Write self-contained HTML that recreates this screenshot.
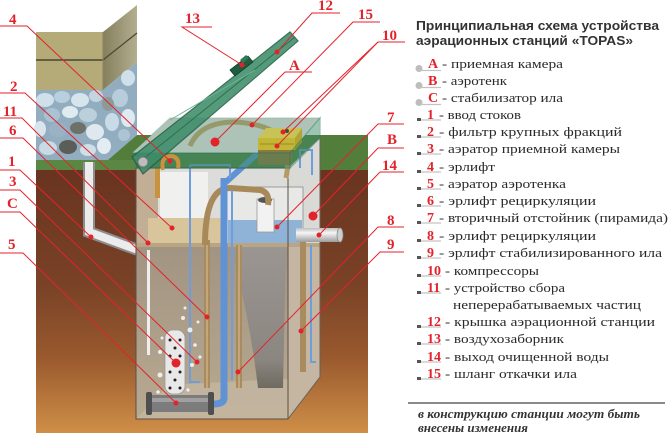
<!DOCTYPE html>
<html><head><meta charset="utf-8">
<style>
html,body{margin:0;padding:0;background:#fff;}
svg{display:block;}
.lb{font-family:"Liberation Serif",serif;font-weight:bold;font-size:15px;fill:#e3232b;}
.num{font-family:"Liberation Serif",serif;font-weight:bold;font-size:14px;fill:#e3232b;}
.dsc{font-family:"Liberation Serif",serif;font-size:13px;fill:#2a2a2a;}
.ttl{font-family:"Liberation Sans",sans-serif;font-weight:bold;font-size:13px;fill:#333;}
.note{font-family:"Liberation Serif",serif;font-weight:bold;font-style:italic;font-size:12.5px;fill:#333;}
</style></head><body>
<svg width="670" height="435" viewBox="0 0 670 435" xmlns="http://www.w3.org/2000/svg">
<defs>
<linearGradient id="soil" x1="0" y1="170" x2="0" y2="433" gradientUnits="userSpaceOnUse">
 <stop offset="0" stop-color="#693420"/>
 <stop offset="0.45" stop-color="#7a4327"/>
 <stop offset="0.72" stop-color="#9a5a2e"/>
 <stop offset="1" stop-color="#cf8f48"/>
</linearGradient>
<linearGradient id="side" x1="103" y1="0" x2="137" y2="0" gradientUnits="userSpaceOnUse">
 <stop offset="0" stop-color="#857f5c"/>
 <stop offset="1" stop-color="#b3ae90"/>
</linearGradient>
<linearGradient id="pipeH" x1="0" y1="0" x2="0" y2="1">
 <stop offset="0" stop-color="#bdbdbd"/>
 <stop offset="0.35" stop-color="#f6f6f6"/>
 <stop offset="1" stop-color="#9c9c9c"/>
</linearGradient>
<linearGradient id="lower" x1="0" y1="246" x2="0" y2="419" gradientUnits="userSpaceOnUse">
 <stop offset="0" stop-color="#a29482"/>
 <stop offset="1" stop-color="#b8a991"/>
</linearGradient>
<linearGradient id="cone" x1="0" y1="246" x2="0" y2="388" gradientUnits="userSpaceOnUse">
 <stop offset="0" stop-color="#9a9694"/>
 <stop offset="0.8" stop-color="#87837f"/>
 <stop offset="1" stop-color="#66625a"/>
</linearGradient>
</defs>

<!-- stone wall -->
<rect x="36" y="32" width="67" height="58" fill="#b5ab78"/>
<polygon points="103,32 137,5 137,62 103,90" fill="url(#side)"/>
<line x1="36" y1="60" x2="103" y2="60" stroke="#4a4630" stroke-width="1.5"/>
<line x1="103" y1="60" x2="137" y2="33" stroke="#4a4630" stroke-width="1.2"/>
<line x1="103" y1="32" x2="103" y2="90" stroke="#8a845e" stroke-width="1"/>

<!-- pebbles -->
<polygon points="36,90 103,90 137,62 137,135 110,160 36,160" fill="#93adc0"/>
<g>
<ellipse cx="45" cy="100" rx="9" ry="7" fill="#cfe0ea"/>
<ellipse cx="62" cy="97" rx="8" ry="6" fill="#b8cfdd"/>
<ellipse cx="80" cy="100" rx="9" ry="7" fill="#d6e4ec"/>
<ellipse cx="96" cy="96" rx="7" ry="6" fill="#c2d5e0"/>
<ellipse cx="52" cy="115" rx="8" ry="7" fill="#a9c3d3"/>
<ellipse cx="70" cy="112" rx="8" ry="6" fill="#e0ebf0"/>
<ellipse cx="88" cy="115" rx="9" ry="7" fill="#bcd0dc"/>
<ellipse cx="40" cy="129" rx="6" ry="8" fill="#d8e5ec"/>
<ellipse cx="58" cy="130" rx="9" ry="7" fill="#9ab3c4"/>
<ellipse cx="78" cy="128" rx="8" ry="6" fill="#6f7068"/>
<ellipse cx="95" cy="132" rx="9" ry="8" fill="#dfe8ee"/>
<ellipse cx="48" cy="148" rx="9" ry="7" fill="#c8dae4"/>
<ellipse cx="68" cy="147" rx="9" ry="7" fill="#5b5d58"/>
<ellipse cx="88" cy="150" rx="8" ry="6" fill="#cfdee7"/>
<ellipse cx="104" cy="146" rx="7" ry="8" fill="#e3ecf1"/>
<ellipse cx="112" cy="122" rx="7" ry="9" fill="#c9dbe6"/>
<ellipse cx="120" cy="98" rx="8" ry="9" fill="#b7cddb"/>
<ellipse cx="128" cy="78" rx="7" ry="8" fill="#cfe0ea"/>
<ellipse cx="128" cy="118" rx="7" ry="9" fill="#dfe9ef"/>
<ellipse cx="124" cy="135" rx="6" ry="6" fill="#adc4d2"/>
<ellipse cx="108" cy="104" rx="6" ry="7" fill="#8e9a98"/>
</g>

<!-- grass -->
<polygon points="36,160 108,160 137,135 368,135 368,170 36,170" fill="#527d3b"/>
<rect x="36" y="160" width="100" height="10" fill="#5b8744"/>

<!-- soil -->
<rect x="36" y="170" width="332" height="263" fill="url(#soil)"/>

<!-- inlet pipe -->
<polyline points="89,162 89,232 138,250" fill="none" stroke="#8e8e8e" stroke-width="12"/>
<polyline points="89,162 89,232 138,250" fill="none" stroke="#ececec" stroke-width="8"/>

<!-- tank right face -->
<polygon points="288,168 320,138 320,377 288,419" fill="#c4b6a2"/>
<polygon points="288,168 320,138 320,244 288,246" fill="#d9d9d6"/>
<!-- tank front face -->
<rect x="136" y="168" width="152" height="78" fill="#dcdcda"/>
<rect x="136" y="168" width="22" height="78" fill="#c2ae94"/>
<rect x="136" y="246" width="152" height="173" fill="url(#lower)"/>
<polygon points="136,419 288,419 320,377 168,385" fill="#c6b7a1" opacity="0.8"/>
<!-- left chamber -->
<rect x="160" y="172" width="48" height="50" fill="#f0f0ee"/>
<rect x="148" y="218" width="80" height="27" fill="#d8c59b"/>
<!-- pyramid top -->
<rect x="227" y="187" width="76" height="57" fill="#e8e8e6" stroke="#8a8a8a" stroke-width="0.8"/>
<rect x="228" y="220" width="74" height="24" fill="#8fb3d6"/>
<rect x="257" y="199" width="17" height="33" fill="#f2f2f2" stroke="#9a9a9a" stroke-width="0.8"/>
<ellipse cx="265" cy="200" rx="7" ry="3" fill="#555"/>
<!-- cone -->
<path d="M231,246 L286,246 L283,388 L258,388 Q250,320 231,246 Z" fill="url(#cone)" opacity="0.9"/>
<rect x="136" y="243" width="184" height="4" fill="#b9a582"/>
<!-- white pole left -->
<rect x="147" y="250" width="3" height="105" fill="#eeeeee"/>

<!-- pipes -->
<rect x="204" y="240" width="6" height="148" fill="#a88b5e"/>
<rect x="206" y="240" width="2" height="148" fill="#c2a77a"/>
<rect x="236" y="245" width="6" height="143" fill="#a88b5e"/>
<rect x="238" y="245" width="2" height="143" fill="#c2a77a"/>
<rect x="300" y="240" width="6" height="132" fill="#a88b5e"/>
<rect x="155" y="168" width="5" height="30" fill="#c8923e"/>
<path d="M205,245 Q205,188 230,188 L260,190 Q270,192 268,205" fill="none" stroke="#a8895a" stroke-width="6"/>
<path d="M224,178 L224,398 Q224,404 213,404" fill="none" stroke="#5f93d6" stroke-width="7"/>
<line x1="226" y1="182" x2="258" y2="153" stroke="#5f93d6" stroke-width="6"/>
<polyline points="190,165 190,382 200,382" fill="none" stroke="#6d9ddc" stroke-width="2"/>
<polyline points="232,190 232,380" fill="none" stroke="#6d9ddc" stroke-width="2"/>
<polyline points="311,245 311,362 316,362" fill="none" stroke="#6d9ddc" stroke-width="2"/>
<polyline points="190,165 230,165 230,178" fill="none" stroke="#6d9ddc" stroke-width="2"/>
<polyline points="300,168 300,150 312,150 312,175" fill="none" stroke="#6d9ddc" stroke-width="2"/>

<!-- aerator perforated -->
<rect x="165" y="330" width="20" height="64" rx="8" fill="#e8e8e8" stroke="#9a9a9a" stroke-width="0.8"/>
<g fill="#222">
<circle cx="170" cy="340" r="1.5"/><circle cx="180" cy="340" r="1.5"/>
<circle cx="175" cy="348" r="1.5"/><circle cx="170" cy="356" r="1.5"/><circle cx="180" cy="356" r="1.5"/>
<circle cx="170" cy="372" r="1.5"/><circle cx="180" cy="372" r="1.5"/>
<circle cx="175" cy="380" r="1.5"/><circle cx="170" cy="388" r="1.5"/><circle cx="180" cy="388" r="1.5"/>
</g>
<g fill="#f4f7fa" opacity="0.9">
<circle cx="183" cy="318" r="2"/><circle cx="190" cy="330" r="2.5"/><circle cx="160" cy="352" r="2"/>
<circle cx="195" cy="345" r="1.8"/><circle cx="160" cy="375" r="2.5"/><circle cx="192" cy="365" r="2"/>
<circle cx="188" cy="390" r="1.6"/><circle cx="158" cy="392" r="1.8"/><circle cx="198" cy="322" r="1.5"/>
<circle cx="185" cy="308" r="1.5"/><circle cx="200" cy="357" r="1.6"/><circle cx="162" cy="338" r="1.5"/>
</g>
<!-- bottom aerator -->
<rect x="149" y="395" width="62" height="17" rx="3" fill="#7c7c7c"/>
<rect x="150" y="398" width="60" height="4" fill="#a0a0a0"/>
<rect x="146" y="392" width="6" height="23" rx="2" fill="#4f4f4f"/>
<rect x="208" y="392" width="6" height="23" rx="2" fill="#4f4f4f"/>

<!-- tank edges -->
<rect x="136" y="168" width="152" height="251" fill="none" stroke="#5a5048" stroke-width="1"/>
<polyline points="288,419 320,377 320,138" fill="none" stroke="#6a6058" stroke-width="1"/>

<!-- outlet pipe -->
<rect x="296" y="228" width="44" height="14" fill="url(#pipeH)"/>
<ellipse cx="340" cy="235" rx="3" ry="7" fill="#cfcfcf" stroke="#8a8a8a" stroke-width="0.8"/>

<!-- lid box interior -->
<polygon points="132,153 170,118 320,118 290,153" fill="#d2d4d0"/>
<path d="M190,146 Q200,122 235,122 Q270,124 284,140 Q290,160 286,178" fill="none" stroke="#b39a66" stroke-width="5"/>
<!-- compressors -->
<polygon points="258,138 266,128 302,128 295,138" fill="#f7d44a"/>
<rect x="258" y="138" width="37" height="12" fill="#f1c21b"/>
<polygon points="295,138 302,128 302,142 295,150" fill="#d9a818"/>
<rect x="258" y="150" width="34" height="15" fill="#a36d2c"/>
<line x1="260" y1="144" x2="294" y2="144" stroke="#b08a10" stroke-width="1"/>
<circle cx="287" cy="131" r="2" fill="#333"/>
<!-- box faces -->
<polygon points="132,153 170,118 320,118 290,153" fill="#4f9a78" opacity="0.28" stroke="#2c7c5c" stroke-width="1.2"/>
<polygon points="132,153 290,153 290,168 137,168" fill="#3f8a68" opacity="0.55" stroke="#2c7c5c" stroke-width="1.2"/>
<polygon points="290,153 320,118 320,138 290,168" fill="#3f8a68" opacity="0.5" stroke="#2c7c5c" stroke-width="1.2"/>

<!-- open lid -->
<polygon points="132,157 290,32 298,41 143,174" fill="#3e8d69" opacity="0.88" stroke="#235f45" stroke-width="1.2"/>
<line x1="137" y1="164" x2="295" y2="37" stroke="#2a7052" stroke-width="1"/>
<line x1="170" y1="120" x2="255" y2="70" stroke="#6fb393" stroke-width="1"/>
<polygon points="230,70 248,56 253,62 235,76" fill="#1f5c40" stroke="#144030" stroke-width="0.8"/>
<polygon points="240,60 246,55 249,58 243,63" fill="#2f7a55"/>
<!-- hinge -->
<circle cx="143" cy="162" r="5" fill="#bdbdbd" stroke="#777" stroke-width="1"/>
<path d="M163,170 Q160,156 172,156 Q180,158 178,168" fill="none" stroke="#c8923e" stroke-width="4"/>

<!-- leaders -->
<g stroke="#e3232b" stroke-width="1" fill="none">
<polyline points="0,26 27,26 170,161"/>
<polyline points="0,93 25,93 172,228"/>
<polyline points="0,118 22,118 148,243"/>
<polyline points="0,138 23,138 207,317"/>
<polyline points="0,170 20,170 91,237"/>
<polyline points="0,190 20,190 197,362"/>
<polyline points="0,212 20,212 176,363"/>
<polyline points="0,253 23,253 176,403"/>
<polyline points="212,27 182,27 242,65"/>
<polyline points="340,13 312,13 277,52"/>
<polyline points="380,22 353,22 252,125"/>
<polyline points="405,42 378,42 283,132"/>
<polyline points="378,42 277,146"/>
<polyline points="312,72 285,72 215,142"/>
<polyline points="404,124 378,124 277,227"/>
<polyline points="404,148 378,148 313,216"/>
<polyline points="404,172 380,172 319,235"/>
<polyline points="404,227 378,227 238,372"/>
<polyline points="404,252 380,252 301,331"/>
</g>
<g fill="#e3232b">
<circle cx="170" cy="161" r="2.5"/><circle cx="172" cy="228" r="2.5"/><circle cx="148" cy="243" r="2.5"/>
<circle cx="207" cy="317" r="2.5"/><circle cx="91" cy="237" r="2.5"/><circle cx="197" cy="362" r="2.5"/>
<circle cx="176" cy="363" r="4.5"/><circle cx="176" cy="403" r="2.5"/><circle cx="242" cy="65" r="2.5"/>
<circle cx="277" cy="52" r="2.5"/><circle cx="252" cy="125" r="2.5"/><circle cx="283" cy="132" r="2.5"/>
<circle cx="277" cy="146" r="2.5"/><circle cx="215" cy="142" r="4.5"/><circle cx="277" cy="227" r="2.5"/>
<circle cx="313" cy="216" r="4.5"/><circle cx="319" cy="235" r="2.5"/><circle cx="238" cy="372" r="2.5"/>
<circle cx="301" cy="331" r="2.5"/>
</g>

<!-- diagram labels -->
<text class="lb" x="9" y="24">4</text>
<text class="lb" x="10" y="91">2</text>
<text class="lb" x="3" y="116">11</text>
<text class="lb" x="9" y="135">6</text>
<text class="lb" x="8" y="166">1</text>
<text class="lb" x="9" y="186">3</text>
<text class="lb" x="7" y="208">C</text>
<text class="lb" x="8" y="249">5</text>
<text class="lb" x="185" y="23">13</text>
<text class="lb" x="318" y="10">12</text>
<text class="lb" x="358" y="19">15</text>
<text class="lb" x="382" y="40">10</text>
<text class="lb" x="289" y="70">A</text>
<text class="lb" x="387" y="122">7</text>
<text class="lb" x="387" y="144">B</text>
<text class="lb" x="382" y="170">14</text>
<text class="lb" x="387" y="225">8</text>
<text class="lb" x="387" y="249">9</text>

<!-- legend -->
<text class="ttl" x="416" y="30" textLength="243" lengthAdjust="spacingAndGlyphs">Принципиальная схема устройства</text>
<text class="ttl" x="416" y="45" textLength="217" lengthAdjust="spacingAndGlyphs">аэрационных станций «TOPAS»</text>

<g fill="#bdbdbd">
<circle cx="419" cy="68.5" r="3.5"/><circle cx="419" cy="85.5" r="3.5"/><circle cx="419" cy="102.5" r="3.5"/>
</g>
<g stroke="#c2c2c2" stroke-width="1.3">
<line x1="419" y1="70.5" x2="441" y2="70.5"/><line x1="419" y1="87.5" x2="441" y2="87.5"/><line x1="419" y1="104.5" x2="441" y2="104.5"/>
</g>
<g fill="#555">
<rect x="417" y="118" width="4" height="3"/><rect x="417" y="135" width="4" height="3"/><rect x="417" y="152" width="4" height="3"/>
<rect x="417" y="170" width="4" height="3"/><rect x="417" y="187" width="4" height="3"/><rect x="417" y="204" width="4" height="3"/>
<rect x="417" y="221" width="4" height="3"/><rect x="417" y="239" width="4" height="3"/><rect x="417" y="256" width="4" height="3"/>
<rect x="417" y="274" width="4" height="3"/><rect x="417" y="291" width="4" height="3"/><rect x="417" y="325" width="4" height="3"/>
<rect x="417" y="342" width="4" height="3"/><rect x="417" y="360" width="4" height="3"/><rect x="417" y="377" width="4" height="3"/>
</g>
<g stroke="#b5b5b5" stroke-width="1">
<line x1="421" y1="120" x2="441" y2="120"/><line x1="421" y1="137" x2="441" y2="137"/><line x1="421" y1="154" x2="441" y2="154"/>
<line x1="421" y1="172" x2="441" y2="172"/><line x1="421" y1="189" x2="441" y2="189"/><line x1="421" y1="206" x2="441" y2="206"/>
<line x1="421" y1="223" x2="441" y2="223"/><line x1="421" y1="241" x2="441" y2="241"/><line x1="421" y1="258" x2="441" y2="258"/>
<line x1="421" y1="276" x2="441" y2="276"/><line x1="421" y1="293" x2="441" y2="293"/><line x1="421" y1="327" x2="441" y2="327"/>
<line x1="421" y1="344" x2="441" y2="344"/><line x1="421" y1="362" x2="441" y2="362"/><line x1="421" y1="379" x2="441" y2="379"/>
</g>

<text class="num" x="428" y="68">A</text><text class="dsc" x="442" y="68" textLength="121" lengthAdjust="spacingAndGlyphs">- приемная камера</text>
<text class="num" x="428" y="85">B</text><text class="dsc" x="442" y="85" textLength="65" lengthAdjust="spacingAndGlyphs">- аэротенк</text>
<text class="num" x="428" y="102">C</text><text class="dsc" x="442" y="102" textLength="121" lengthAdjust="spacingAndGlyphs">- стабилизатор ила</text>
<text class="num" x="427" y="119">1</text><text class="dsc" x="439" y="119" textLength="82" lengthAdjust="spacingAndGlyphs">- ввод стоков</text>
<text class="num" x="427" y="136">2</text><text class="dsc" x="439" y="136" textLength="183" lengthAdjust="spacingAndGlyphs">- фильтр крупных фракций</text>
<text class="num" x="427" y="153">3</text><text class="dsc" x="439" y="153" textLength="181" lengthAdjust="spacingAndGlyphs">- аэратор приемной камеры</text>
<text class="num" x="427" y="171">4</text><text class="dsc" x="439" y="171" textLength="56" lengthAdjust="spacingAndGlyphs">- эрлифт</text>
<text class="num" x="427" y="188">5</text><text class="dsc" x="439" y="188" textLength="127" lengthAdjust="spacingAndGlyphs">- аэратор аэротенка</text>
<text class="num" x="427" y="205">6</text><text class="dsc" x="439" y="205" textLength="157" lengthAdjust="spacingAndGlyphs">- эрлифт рециркуляции</text>
<text class="num" x="427" y="222">7</text><text class="dsc" x="439" y="222" textLength="229" lengthAdjust="spacingAndGlyphs">- вторичный отстойник (пирамида)</text>
<text class="num" x="427" y="240">8</text><text class="dsc" x="439" y="240" textLength="157" lengthAdjust="spacingAndGlyphs">- эрлифт рециркуляции</text>
<text class="num" x="427" y="257">9</text><text class="dsc" x="439" y="257" textLength="223" lengthAdjust="spacingAndGlyphs">- эрлифт стабилизированного ила</text>
<text class="num" x="427" y="275">10</text><text class="dsc" x="445" y="275" textLength="94" lengthAdjust="spacingAndGlyphs">- компрессоры</text>
<text class="num" x="427" y="292">11</text><text class="dsc" x="445" y="292" textLength="120" lengthAdjust="spacingAndGlyphs">- устройство сбора</text>
<text class="dsc" x="453" y="309" textLength="188" lengthAdjust="spacingAndGlyphs">неперерабатываемых частиц</text>
<text class="num" x="427" y="326">12</text><text class="dsc" x="445" y="326" textLength="210" lengthAdjust="spacingAndGlyphs">- крышка аэрационной станции</text>
<text class="num" x="427" y="343">13</text><text class="dsc" x="445" y="343" textLength="119" lengthAdjust="spacingAndGlyphs">- воздухозаборник</text>
<text class="num" x="427" y="361">14</text><text class="dsc" x="445" y="361" textLength="164" lengthAdjust="spacingAndGlyphs">- выход очищенной воды</text>
<text class="num" x="427" y="378">15</text><text class="dsc" x="445" y="378" textLength="132" lengthAdjust="spacingAndGlyphs">- шланг откачки ила</text>

<line x1="408" y1="403" x2="665" y2="403" stroke="#444" stroke-width="1.2"/>
<text class="note" x="418" y="418" textLength="222" lengthAdjust="spacingAndGlyphs">в конструкцию станции могут быть</text>
<text class="note" x="418" y="432" textLength="110" lengthAdjust="spacingAndGlyphs">внесены изменения</text>
</svg>
</body></html>
